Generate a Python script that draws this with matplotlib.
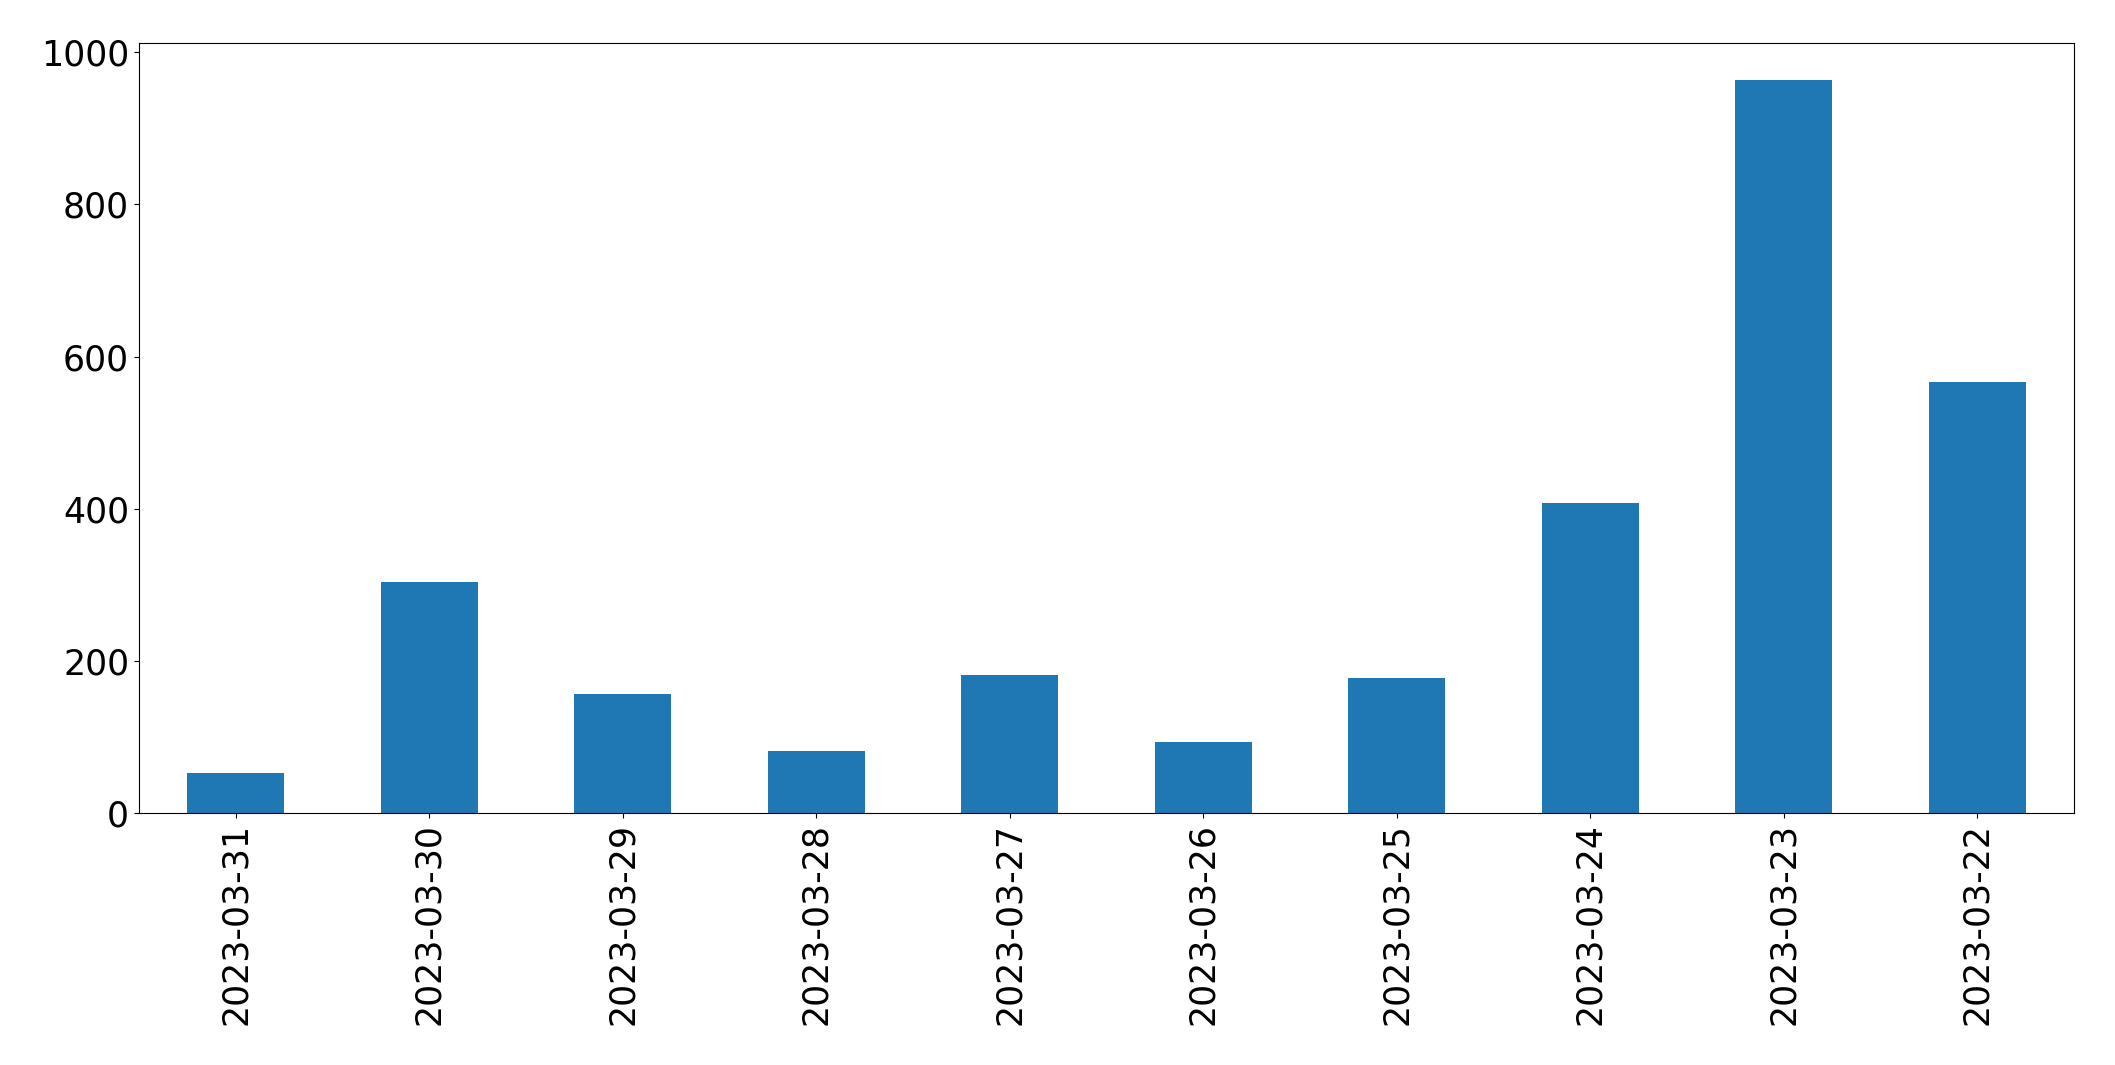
import matplotlib
matplotlib.use("Agg")
import matplotlib.pyplot as plt

dates = ["2023-03-31", "2023-03-30", "2023-03-29", "2023-03-28", "2023-03-27",
         "2023-03-26", "2023-03-25", "2023-03-24", "2023-03-23", "2023-03-22"]
counts = [52, 304, 157, 81, 181, 94, 178, 408, 964, 567]

fig = plt.figure(figsize=(21.15, 10.65), dpi=100)
ax = fig.add_axes([0.0657, 0.2366, 0.9806 - 0.0657, 0.9596 - 0.2366])
x = list(range(len(dates)))
ax.bar(x, counts, width=0.5, color="#1f77b4")
ax.set_xlim(-0.5, len(dates) - 0.5)
ax.set_ylim(0, max(counts) * 1.05)
ax.set_xticks(x)
ax.set_xticklabels(dates, rotation=90)
ax.tick_params(labelsize=25)
fig.savefig("out.png", dpi=100)
